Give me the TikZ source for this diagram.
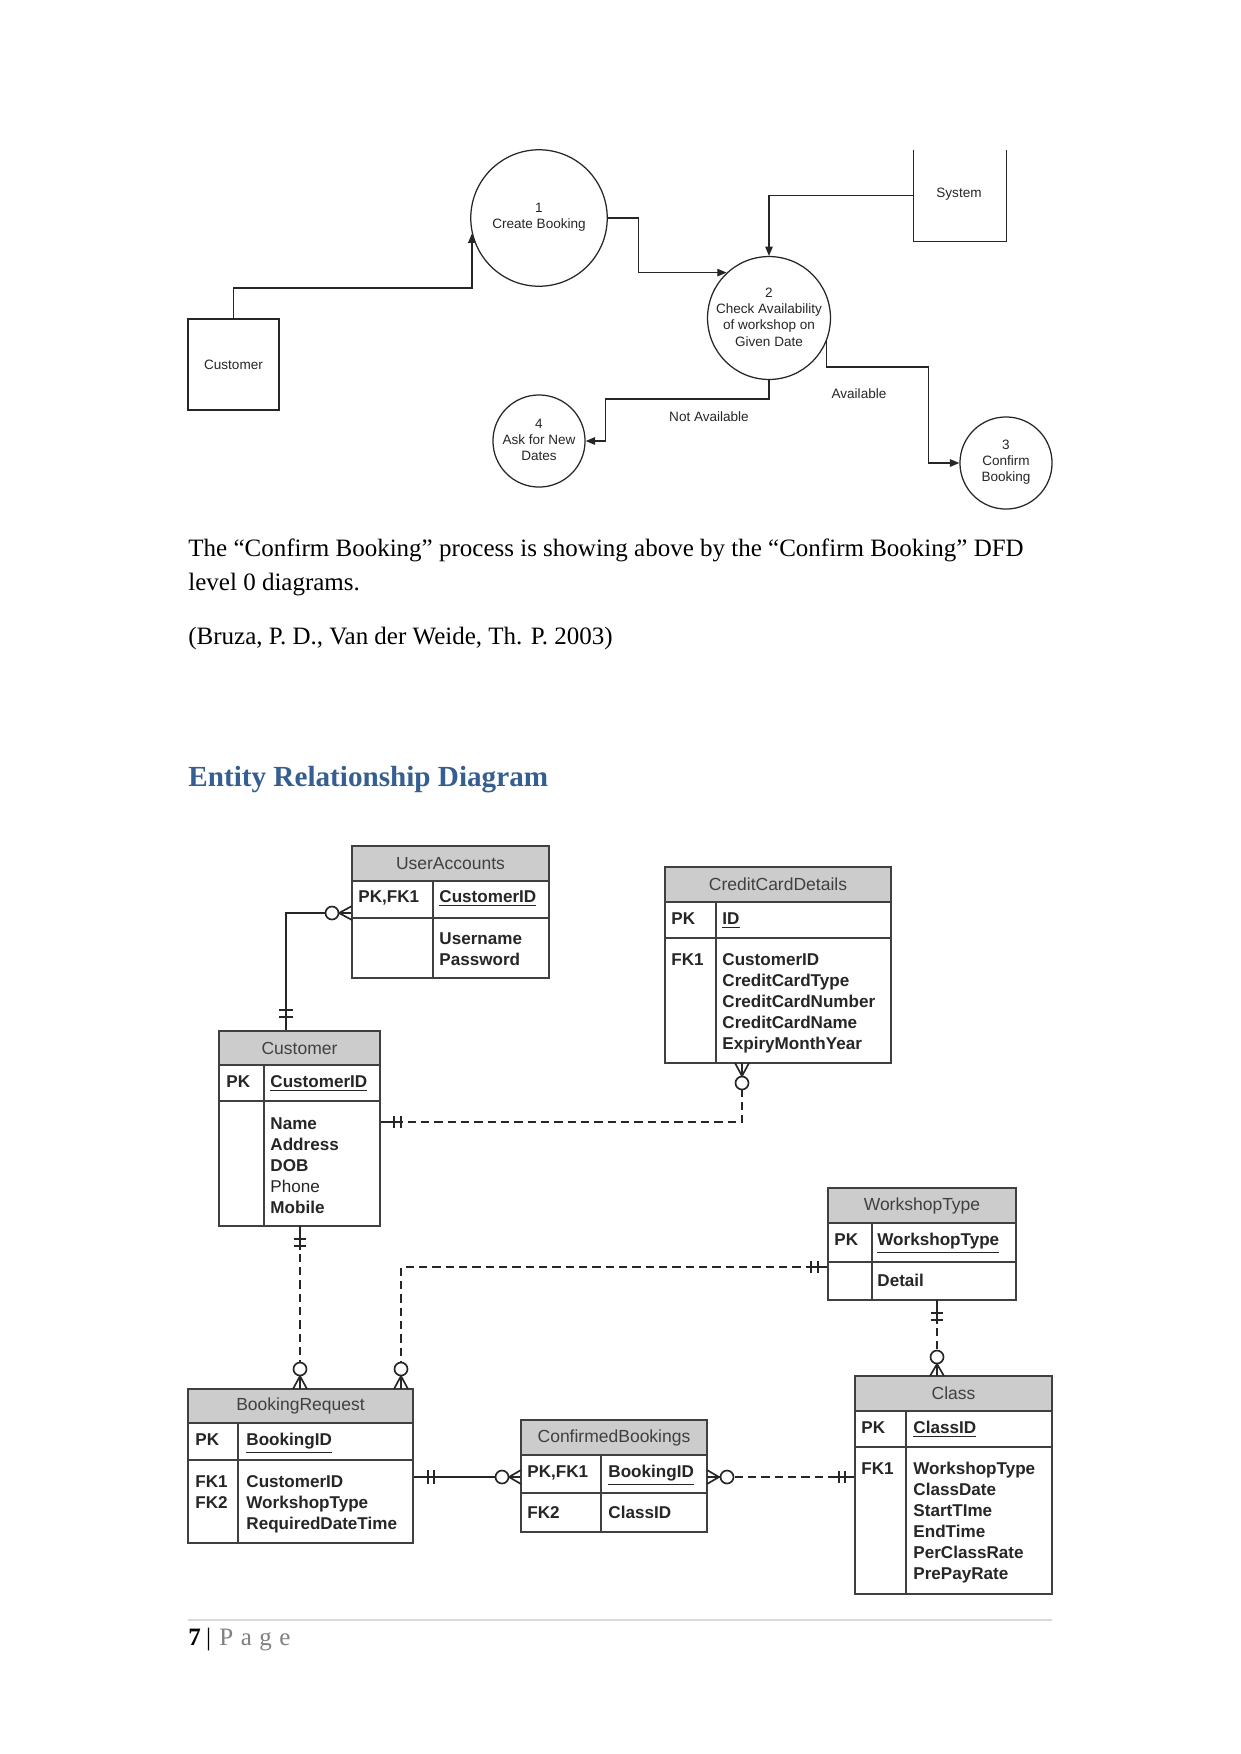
\documentclass[tikz,border=0pt]{standalone}
\usepackage{fontspec}
\setmainfont{Liberation Serif}
\newfontfamily\arialf{Liberation Sans}
\usetikzlibrary{arrows.meta,fit,calc}
\definecolor{hdrgray}{RGB}{204,204,204}
\definecolor{headblue}{RGB}{54,95,145}
\newcommand{\erdtable}[9]{%
  \node[ent, fit={(#2,#3)(#4,#5)}] (#1) {};
  \node[ent, fill=hdrgray, fit={(#2,#3)(#4,#6)}] (#1h) {};
  \node[hdrtxt] at (#1h.center) {#9};
  \draw[entline] (#2,#7) -- (#4,#7);
  \draw[entline] (#8,#6) -- (#8,#5);
}
\begin{document}
\begin{tikzpicture}[x=0.48pt,y=-0.48pt,
  dfdbox/.style={draw=black!85, line width=0.6pt, inner sep=0},
  proc/.style={circle, draw=black!85, line width=0.6pt, inner sep=0},
  flow/.style={draw=black!85, line width=0.6pt, -{Triangle[length=4.5pt,width=3.6pt]}},
  dfdtxt/.style={font=\arialf\fontsize{6.5}{7.8}\selectfont, inner sep=0, text=black!85},
  ent/.style={draw=black!75, line width=0.8pt, inner sep=0},
  entline/.style={draw=black!75, line width=0.8pt},
  hdrtxt/.style={font=\arialf\fontsize{8.4}{9}\selectfont, text=black!75, inner sep=0},
  fld/.style={font=\arialf\bfseries\fontsize{8.2}{9}\selectfont, text=black!85, anchor=mid west, inner sep=0},
  fldn/.style={font=\arialf\fontsize{8.2}{9}\selectfont, text=black!85, anchor=mid west, inner sep=0},
  rel/.style={draw=black!85, line width=0.8pt},
  reldash/.style={rel, dash pattern=on 4pt off 2.4pt},
  relmark/.style={draw=black!85, line width=0.8pt},
  ring/.style={draw=black!85, line width=0.8pt, fill=white},
  body/.style={font=\fontsize{12}{14}\selectfont, anchor=base west, inner sep=0}
]
\useasboundingbox[fill=white] (0,0) rectangle (1241,1754);

% ================= DFD =================
\node[dfdbox, fit={(188,319)(279,410)}] (custd) {};
\node[dfdtxt] at (custd.center) {Customer};
\node[inner sep=0, fit={(914,150)(1006,241)}] (sys) {};
\draw[draw=black!85, line width=0.6pt] (sys.north west) -- (sys.south west) -- (sys.south east) -- (sys.north east);
\node[dfdtxt] at (959,194) {System};

\node[proc, minimum size=65.5pt] (cb) at (539,218) {};
\node[dfdtxt, align=center] at (539,217) {1\\Create Booking};
\node[proc, minimum size=59pt] (chk) at (769,318) {};
\node[dfdtxt, align=center] at (769,317) {2\\Check Availability\\of workshop on\\Given Date};
\node[proc, minimum size=44.2pt] (ask) at (539,441) {};
\node[dfdtxt, align=center] at (539,440) {4\\Ask for New\\Dates};
\node[proc, minimum size=44.2pt] (conf) at (1006,463) {};
\node[dfdtxt, align=center] at (1006,462) {3\\Confirm\\Booking};

\draw[flow] (custd.north) -- (custd.north |- 0,288) -| (cb.193.6);
\draw[flow] (cb.east) -- ++(31,0) |- (chk.133);
\draw[flow] (sys.west) -| (chk.north);
\draw[flow] (chk.south) -- ++(0,19) -| ($(ask.east)+(20,0)$) -- (ask.east);
\draw[flow] (chk.-22) -- (chk.-22 |- 0,367) -| ($(conf.west)+(-31,0)$) -- (conf.west);
\node[dfdtxt] (nalab) at (709,417) {Not Available};
\node[dfdtxt] (alab) at (859,394) {Available};

% ================= Text =================
\node[body] (p1) at (188,556) {The “Confirm Booking” process is showing above by the “Confirm Booking” DFD};
\node[body] (p2) at (188,590) {level 0 diagrams.};
\node[body] (p3) at (188,644) {(Bruza, P. D., Van der Weide, Th. P. 2003)};
\node[font=\bfseries\fontsize{14}{16}\selectfont, text=headblue, anchor=base west, inner sep=0] (hd) at (188,786) {Entity Relationship Diagram};

% ================= ERD tables =================
\erdtable{ua}{352}{846}{549}{978}{881}{918}{433}{UserAccounts}
\node[fld] at (358,898) {PK,FK1};
\node[fld] at (439,898) {\underline{CustomerID}};
\node[fld] at (439,940) {Username};
\node[fld] at (439,961) {Password};

\erdtable{ccd}{665}{867}{891}{1063}{902}{938}{716}{CreditCardDetails}
\node[fld] at (671,920) {PK};
\node[fld] at (722,920) {\underline{ID}};
\node[fld] at (671,961) {FK1};
\foreach \t [count=\i from 0] in {CustomerID,CreditCardType,CreditCardNumber,CreditCardName,ExpiryMonthYear}
  \node[fld] at (722,961+20.9*\i) {\t};

\erdtable{cust}{219}{1031}{380}{1226}{1065}{1101}{264}{Customer}
\node[fld] at (226,1083) {PK};
\node[fld] at (270,1083) {\underline{CustomerID}};
\node[fld] at (270,1125) {Name};
\node[fld] at (270,1146) {Address};
\node[fld] at (270,1167) {DOB};
\node[fldn] at (270,1188) {Phone};
\node[fld] at (270,1209) {Mobile};

\erdtable{wt}{828}{1188}{1016}{1300}{1223}{1262}{872}{WorkshopType}
\node[fld] at (834,1241) {PK};
\node[fld] at (877,1241) {\underline{WorkshopType}};
\node[fld] at (877,1282) {Detail};

\erdtable{br}{188}{1389}{413}{1543}{1423}{1460}{238}{BookingRequest}
\node[fld] at (195,1441) {PK};
\node[fld] at (246,1441) {\underline{BookingID}};
\node[fld] at (195,1483) {FK1};
\node[fld] at (195,1504) {FK2};
\node[fld] at (246,1483) {CustomerID};
\node[fld] at (246,1504) {WorkshopType};
\node[fld] at (246,1525) {RequiredDateTime};

\erdtable{cbk}{521}{1420}{707}{1532}{1455}{1493}{601}{ConfirmedBookings}
\node[fld] at (527,1473) {PK,FK1};
\node[fld] at (608,1473) {\underline{BookingID}};
\node[fld] at (527,1514) {FK2};
\node[fld] at (608,1514) {ClassID};

\erdtable{cls}{855}{1376}{1052}{1594}{1411}{1447}{906}{Class}
\node[fld] at (861,1429) {PK};
\node[fld] at (913,1429) {\underline{ClassID}};
\node[fld] at (861,1470) {FK1};
\foreach \t [count=\i from 0] in {WorkshopType,ClassDate,StartTIme,EndTime,PerClassRate,PrePayRate}
  \node[fld] at (913,1470+20.9*\i) {\t};

% ================= Relationships =================
% UserAccounts - Customer
\draw[rel] (ua.west |- 0,913) -- (286,913) -- (cust.north -| 286,0);
\draw[relmark] (352,906) -- (339,913) -- (352,920);
\draw[ring] (332,913) circle[radius=6.5];
\draw[relmark] (279,1010) -- (293,1010) (279,1017) -- (293,1017);

% Customer - CreditCardDetails
\draw[reldash] (cust.east |- 0,1122) -- (742,1122) -- (ccd.south -| 742,0);
\draw[rel] (cust.east |- 0,1122) -- (402,1122);
\draw[relmark] (394,1116) -- (394,1128) (401,1116) -- (401,1128);
\draw[rel] (742,1063) -- (742,1077);
\draw[relmark] (735,1063) -- (742,1076) -- (749,1063);
\draw[ring] (742,1083) circle[radius=6.5];

% Customer - BookingRequest
\draw[reldash] (cust.south -| 300,0) -- (br.north -| 300,0);
\draw[rel] (300,1226) -- (300,1250);
\draw[relmark] (294,1239) -- (306,1239) (294,1246) -- (306,1246);
\draw[rel] (300,1376) -- (300,1389);
\draw[relmark] (293,1389) -- (300,1376) -- (307,1389);
\draw[ring] (300,1369) circle[radius=6.5];

% WorkshopType - BookingRequest
\draw[reldash] (wt.west |- 0,1267) -- (401,1267) -- (br.north -| 401,0);
\draw[rel] (wt.west |- 0,1267) -- (808,1267);
\draw[relmark] (811,1261) -- (811,1273) (818,1261) -- (818,1273);
\draw[rel] (401,1376) -- (401,1389);
\draw[relmark] (394,1389) -- (401,1376) -- (408,1389);
\draw[ring] (401,1369) circle[radius=6.5];

% WorkshopType - Class
\draw[reldash] (wt.south -| 937,0) -- (cls.north -| 937,0);
\draw[rel] (937,1300) -- (937,1324);
\draw[relmark] (931,1313) -- (943,1313) (931,1320) -- (943,1320);
\draw[rel] (937,1364) -- (937,1376);
\draw[relmark] (930,1376) -- (937,1364) -- (944,1376);
\draw[ring] (937,1357) circle[radius=6.5];

% BookingRequest - ConfirmedBookings
\draw[rel] (br.east |- 0,1477) -- (cbk.west |- 0,1477);
\draw[relmark] (428,1470) -- (428,1484) (434,1470) -- (434,1484);
\draw[relmark] (521,1470) -- (509,1477) -- (521,1484);
\draw[ring] (502,1477) circle[radius=6.5];

% ConfirmedBookings - Class
\draw[reldash] (cbk.east |- 0,1477) -- (cls.west |- 0,1477);
\draw[rel] (707,1477) -- (721,1477);
\draw[relmark] (707,1470) -- (719,1477) -- (707,1484);
\draw[ring] (727,1477) circle[radius=6.5];
\draw[rel] (836,1477) -- (cls.west |- 0,1477);
\draw[relmark] (839,1471) -- (839,1483) (845,1471) -- (845,1483);

% ================= Footer =================
\draw[draw=black!15, line width=0.6pt] (188,1620) coordinate (fl) -- (1052,1620) coordinate (fr);
\node[font=\fontsize{12}{14}\selectfont, anchor=base west, inner sep=0] (pg) at (188,1645)
  {\textbf{7}\hspace{2.5pt}|\hspace{4pt}\textcolor{black!50}{P\hspace{3.6pt}a\hspace{3.6pt}g\hspace{3.6pt}e}};
\end{tikzpicture}
\end{document}
